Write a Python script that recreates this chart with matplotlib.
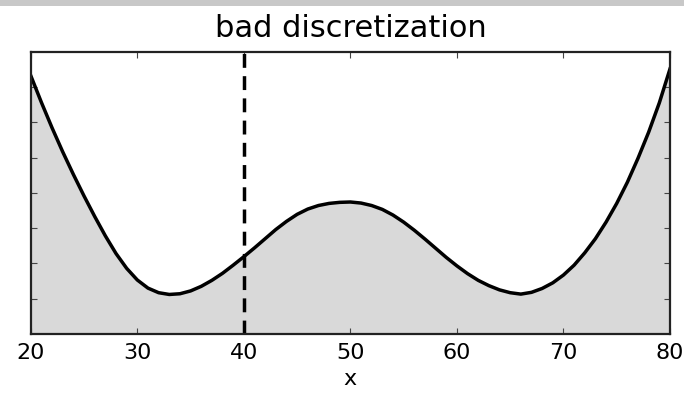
import numpy as np
import matplotlib
matplotlib.use("Agg")
import matplotlib.pyplot as plt
from matplotlib.patches import Rectangle

# curve (x in data units, y in tick units)
x_vals = list(range(20, 81))
y_vals = [
    7.32, 6.56, 5.84, 5.16, 4.52, 3.91, 3.33, 2.78, 2.28, 1.86,   # 20-29
    1.53, 1.30, 1.17, 1.12, 1.14, 1.22, 1.35, 1.52, 1.72, 1.95,   # 30-39
    2.19, 2.44, 2.70, 2.96, 3.19, 3.39, 3.54, 3.64, 3.70, 3.73,   # 40-49
    3.74, 3.71, 3.64, 3.53, 3.37, 3.17, 2.94, 2.69, 2.43, 2.17,   # 50-59
    1.93, 1.71, 1.52, 1.37, 1.25, 1.17, 1.13, 1.18, 1.29, 1.45,   # 60-69
    1.67, 1.95, 2.30, 2.70, 3.17, 3.70, 4.30, 4.98, 5.72, 6.55,   # 70-79
    7.51,                                                         # 80
]
cut_x = 40
x_ticks = [20, 30, 40, 50, 60, 70, 80]
y_ticks = [1, 2, 3, 4, 5, 6, 7]

plt.rcParams['lines.scale_dashes'] = False
plt.rcParams['font.family'] = ['DejaVu Sans']

fig = plt.figure(figsize=(6.84, 4.02), dpi=100)
fig.patches.append(Rectangle((0, 1 - 7 / 402), 1, 7 / 402, transform=fig.transFigure,
                             facecolor='#c8c8c8', edgecolor='none'))
ax = fig.add_axes([0.045, 0.1667, 0.9345, 0.7023])

x = np.array(x_vals, dtype=float)
y = np.array(y_vals)
ax.fill_between(x, 0, y, color='#d9d9d9', lw=0)
ax.plot(x, y, color='black', lw=2.5, solid_joinstyle='round')
ax.axvline(cut_x, color='black', lw=2.5, dashes=(10, 6))

ax.set_xlim(20, 80)
ax.set_ylim(0, 8)
ax.set_xticks(x_ticks)
ax.set_yticks(y_ticks)
ax.set_yticklabels([])
ax.tick_params(direction='in', length=4, width=0.8, color='#444444',
               top=True, right=True, labelsize=16, pad=6)
for s in ax.spines.values():
    s.set_linewidth(1.6)
    s.set_color('#222222')

ax.set_xlabel('x', fontsize=16, labelpad=4)
ax.set_title('bad discretization', fontsize=22, pad=11)

fig.savefig('out.png', dpi=100)
